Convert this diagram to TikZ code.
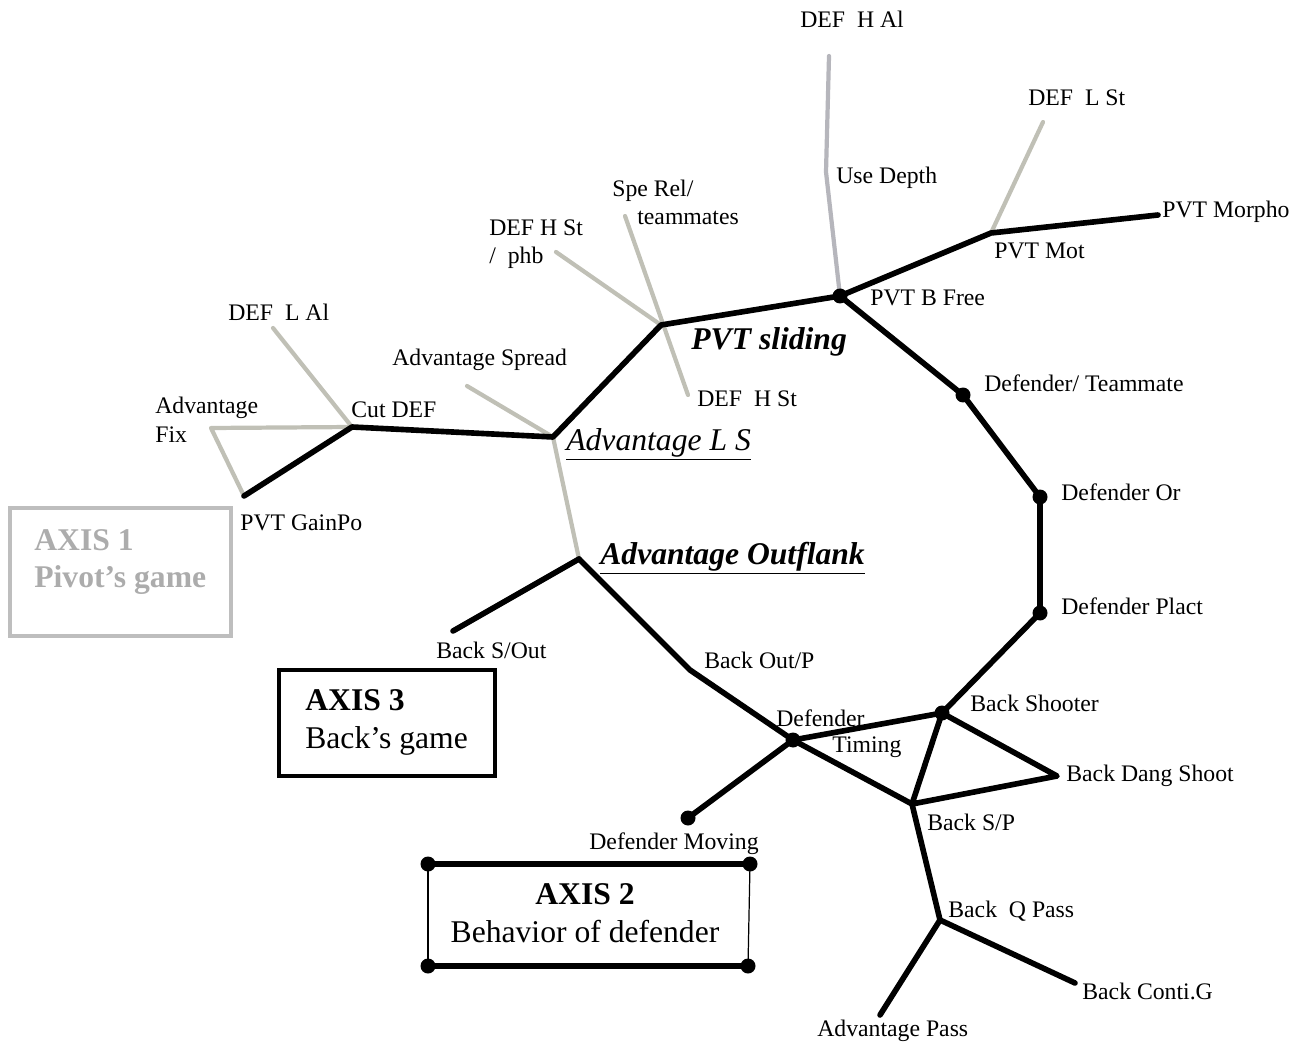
\documentclass[tikz,border=0pt]{standalone}
\usepackage{fontspec}
\setmainfont{Liberation Serif}
\usepackage{tikz}
\definecolor{mygray}{RGB}{192,192,182}
\definecolor{mysteel}{RGB}{182,182,188}
\definecolor{myaxis}{RGB}{190,190,190}
\definecolor{myaxistext}{RGB}{172,172,172}
\tikzset{
  thickline/.style={line width=3.2pt, line cap=round, line join=round},
  greyline/.style={line width=2.4pt, color=mygray, line cap=round, line join=round},
  dot/.style={circle, fill=black, inner sep=0pt, minimum size=0.3cm},
  lbl/.style={anchor=base west, inner sep=0pt, font=\fontsize{13.5}{15.5}\selectfont},
  biglbl/.style={anchor=base west, inner sep=0pt, font=\fontsize{18}{21}\selectfont}
}

\begin{document}
\begin{tikzpicture}[x=0.02cm, y=-0.02cm]
		\useasboundingbox (0,0) rectangle (1304,1043);
		
		% Junctions
		\coordinate (cutdef) at (352,427);
		\coordinate (advfix) at (211,428);
		\coordinate (gainpo) at (244,496);
		\coordinate (lalend) at (273,328);
		\coordinate (advls) at (553,437);
		\coordinate (spreadend) at (467,386);
		\coordinate (outflank) at (579,559);
		\coordinate (sliding) at (661,325);
		\coordinate (phbend) at (556,252);
		\coordinate (sperelend) at (625,216);
		\coordinate (hstend) at (688,395);
		\coordinate (depthbend) at (826,172);
		\coordinate (halend) at (829,56);
		\coordinate (mot) at (991,233);
		\coordinate (lstend) at (1043,122);
		\coordinate (morphoend) at (1158,215);
		\coordinate (outpbend) at (690,670);
		\coordinate (soutend) at (453,631);
		\coordinate (dangshoot) at (1057,776);
		\coordinate (backsp) at (912,804);
		\coordinate (qpass) at (940,920);
		\coordinate (passend) at (880,1015);
		\coordinate (contiend) at (1075,983);
		\coordinate (bfree) at (840,296);
		\coordinate (defteam) at (963,395);
		\coordinate (defor) at (1040,497);
		\coordinate (plact) at (1040,613);
		\coordinate (shooter) at (942,713);
		\coordinate (timing) at (793,740);
		\coordinate (moving) at (688,818);
		
		% Draw the grey branches
		\draw[greyline] (cutdef) -- (lalend);
		\draw[greyline] (cutdef) -- (advfix) -- (gainpo);
		\draw[greyline] (advls) -- (spreadend);
		\draw[greyline] (advls) -- (outflank);
		\draw[greyline] (sliding) -- (phbend);
		\draw[greyline] (sperelend) -- (hstend);
		\draw[greyline, color=mysteel] (bfree) -- (depthbend) -- (halend);
		\draw[greyline] (mot) -- (lstend);
		
		% Draw the black branches
		\draw[thickline] (gainpo) -- (cutdef) -- (advls) -- (sliding) -- (bfree) -- (mot) -- (morphoend);
		\draw[thickline] (bfree) -- (defteam) -- (defor) -- (plact) -- (shooter);
		\draw[thickline] (outflank) -- (outpbend) -- (timing) -- (backsp);
		\draw[thickline] (outflank) -- (soutend);
		\draw[thickline] (timing) -- (shooter) -- (dangshoot) -- (backsp) -- (shooter);
		\draw[thickline] (timing) -- (moving);
		\draw[thickline] (backsp) -- (qpass) -- (passend);
		\draw[thickline] (qpass) -- (contiend);
		
		% Dots on the junctions
		\node[dot] (bfreedot) at (bfree) {};
		\node[dot] (defteamdot) at (defteam) {};
		\node[dot] (defordot) at (defor) {};
		\node[dot] (plactdot) at (plact) {};
		\node[dot] (shooterdot) at (shooter) {};
		\node[dot] (timingdot) at (timing) {};
		\node[dot] (movingdot) at (moving) {};
		
		% Label the branches
		\node[lbl] (lhal) at (800,28) {DEF\ \ H Al};
		\node[lbl] (llst) at (1028,106) {DEF\ \ L St};
		\node[lbl] (ldepth) at (836,184) {Use Depth};
		\node[lbl] (lmorpho) at (1162,218) {PVT Morpho};
		\node[lbl] (lmot) at (994,259) {PVT Mot};
		\node[lbl] (lbfree) at (870,306) {PVT B Free};
		\node[lbl] (lsperel) at (612,197) {Spe Rel/};
		\node[lbl] (lteam) at (637,225) {teammates};
		\node[lbl] (lhst) at (489,236) {DEF H St};
		\node[lbl] (lphb) at (489,264) {/\ \ phb};
		\node[biglbl, font=\fontsize{18}{21}\selectfont\bfseries\itshape] (lsliding) at (691,350) {PVT sliding};
		\node[lbl] (lhst2) at (697,407) {DEF\ \ H St};
		\node[lbl] (lspread) at (392,366) {Advantage Spread};
		\node[lbl] (llal) at (228,321) {DEF\ \ L Al};
		\node[lbl] (lfix) at (155,414) {Advantage};
		\node[lbl] (lfix2) at (155,442) {Fix};
		\node[lbl] (lcut) at (351,418) {Cut DEF};
		\node[biglbl, font=\fontsize{18}{21}\selectfont\itshape] (lls) at (566,450) {\underline{Advantage L S}};
		\node[lbl] (lteammate) at (984,392) {Defender/ Teammate};
		\node[lbl] (lor) at (1061,500) {Defender Or};
		\node[lbl] (lgainpo) at (240,530) {PVT GainPo};
		\node[biglbl, font=\fontsize{18}{21}\selectfont\bfseries\itshape] (loutflank) at (600,564) {\underline{Advantage Outflank}};
		\node[lbl] (lplact) at (1061,614) {Defender Plact};
		\node[lbl] (lsout) at (436,658) {Back S/Out};
		\node[lbl] (loutp) at (704,668) {Back Out/P};
		\node[lbl] (lshooter) at (970,711) {Back Shooter};
		\node[lbl] (ltiming) at (776,726) {Defender};
		\node[lbl] (ltiming2) at (832,752) {Timing};
		\node[lbl] (ldang) at (1066,781) {Back Dang Shoot};
		\node[lbl] (lsp) at (927,830) {Back S/P};
		\node[lbl] (lmoving) at (589,849) {Defender Moving};
		\node[lbl] (lqpass) at (948,917) {Back\ \ Q Pass};
		\node[lbl] (lconti) at (1082,999) {Back Conti.G};
		\node[lbl] (lpass) at (817,1036) {Advantage Pass};
		
		% Axis boxes
		\draw[line width=2.8pt, color=myaxis] (10,508) rectangle (231,636);
		\node[biglbl, font=\fontsize{18}{21}\selectfont\bfseries, text=myaxistext] (axisone) at (34,550) {AXIS 1};
		\node[biglbl, font=\fontsize{18}{21}\selectfont\bfseries, text=myaxistext] (axisonename) at (34,587) {Pivot’s game};
		
		\draw[line width=2.4pt] (279,670) rectangle (495,776);
		\node[biglbl, font=\fontsize{18}{21}\selectfont\bfseries] (axisthree) at (305,710) {AXIS 3};
		\node[biglbl] (axisthreename) at (305,748) {Back’s game};
		
		\coordinate (boxnw) at (428,864);
		\coordinate (boxne) at (750,864);
		\coordinate (boxsw) at (428,966);
		\coordinate (boxse) at (748,966);
		\draw[line width=0.7pt] (boxnw) -- (boxsw);
		\draw[line width=0.7pt] (boxne) -- (boxse);
		\draw[thickline] (boxnw) -- (boxne);
		\draw[thickline] (boxsw) -- (boxse);
		\foreach \c in {boxnw,boxne,boxsw,boxse}
			\node[dot] (\c dot) at (\c) {};
		\node[inner sep=0pt, anchor=base, font=\fontsize{18}{21}\selectfont\bfseries] (axistwo) at (585,904) {AXIS 2};
		\node[inner sep=0pt, anchor=base, font=\fontsize{18}{21}\selectfont] (axistwoname) at (585,942) {Behavior of defender};
	\end{tikzpicture}
\end{document}
